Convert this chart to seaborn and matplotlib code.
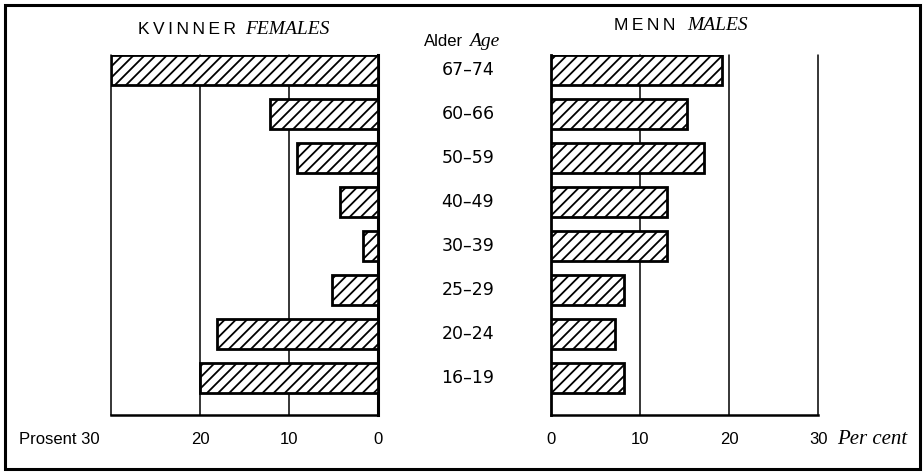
import matplotlib
matplotlib.use("Agg")
import matplotlib.pyplot as plt
import pandas as pd
import seaborn as sns
from matplotlib.patches import Rectangle

# data (percent)
ages = ["67–74", "60–66", "50–59", "40–49", "30–39", "25–29", "20–24", "16–19"]
females = [30.0, 12.1, 9.1, 4.3, 1.7, 5.2, 18.1, 20.0]
males = [19.2, 15.3, 17.2, 13.0, 13.0, 8.2, 7.2, 8.2]
ticks = [0, 10, 20, 30]

df = pd.DataFrame({"age": ages, "female": females, "male": males})

sns.set_style("white")
plt.rcParams["font.family"] = ["Liberation Sans", "DejaVu Sans"]
plt.rcParams["text.color"] = "black"
plt.rcParams["hatch.linewidth"] = 1.3

SANS = ["Liberation Sans", "DejaVu Sans"]
SERIF = "Liberation Serif"
FS = 12
TS = "\u2009"  # thin space for the letter-spaced headings

fig = plt.figure(figsize=(9.24, 4.75), dpi=100)
ax_f = fig.add_axes([111 / 924, 1 - 415 / 475, 267 / 924, 360 / 475])
ax_m = fig.add_axes([551 / 924, 1 - 415 / 475, 267 / 924, 360 / 475])

for ax, col in [(ax_f, "female"), (ax_m, "male")]:
    sns.barplot(data=df, x=col, y="age", order=ages, orient="h", ax=ax,
                color="white", edgecolor="black", linewidth=2.0, width=0.68,
                saturation=1, zorder=3)
    for p in ax.patches:
        p.set_hatch("///")
        p.set_facecolor("white")
    for t in ticks[1:]:
        ax.axvline(t, color="black", lw=1.1, zorder=1, clip_on=False)
    ax.set_ylim(7.85, -0.34)
    ax.set_xlim(0, 30)
    ax.set_xlabel("")
    ax.set_ylabel("")
    ax.set_yticks([])
    ax.set_xticks([])
    for s in ax.spines.values():
        s.set_visible(False)
    ax.spines["bottom"].set_visible(True)
    ax.spines["bottom"].set_linewidth(1.8)
    ax.spines["bottom"].set_color("black")

ax_f.invert_xaxis()
ax_f.spines["right"].set_visible(True)
ax_f.spines["right"].set_linewidth(2.2)
ax_f.spines["right"].set_color("black")
ax_m.spines["left"].set_visible(True)
ax_m.spines["left"].set_linewidth(2.0)
ax_m.spines["left"].set_color("black")

# tick numbers along the bottom
ty = 1 - 440 / 475
for t in ticks[:-1]:
    xf = (378 - t * 8.9) / 924
    fig.text(xf, ty, str(t), ha="center", va="center", fontsize=FS, family=SANS)
for t in ticks:
    xm = (551 + t * 8.93) / 924
    fig.text(xm, ty, str(t), ha="center", va="center", fontsize=FS, family=SANS)
fig.text(100 / 924, ty, "Prosent 30", ha="right", va="center", fontsize=FS, family=SANS)
fig.text(837 / 924, ty, "Per cent", ha="left", va="center", fontsize=15,
         family=SERIF, style="italic")

# age labels in the middle
for i, a in enumerate(ages):
    y = ax_f.transData.transform((0, i))[1]
    yf = fig.transFigure.inverted().transform((0, y))[1]
    fig.text(468 / 924, yf, a, ha="center", va="center", fontsize=12.5,
             family=["DejaVu Sans"])

# headings
fig.text(236 / 924, 1 - 30 / 475, TS.join("KVINNER"), ha="right", va="center",
         fontsize=12.5, family=SANS)
fig.text(245 / 924, 1 - 30 / 475, "FEMALES", ha="left", va="center", fontsize=14,
         family=SERIF, style="italic")
fig.text(675 / 924, 1 - 25 / 475, TS.join("MENN"), ha="right", va="center",
         fontsize=12.5, family=SANS)
fig.text(687 / 924, 1 - 25 / 475, "MALES", ha="left", va="center", fontsize=14,
         family=SERIF, style="italic")
fig.text(463 / 924, 1 - 42 / 475, "Alder", ha="right", va="center", fontsize=FS, family=SANS)
fig.text(469 / 924, 1 - 42 / 475, "Age", ha="left", va="center", fontsize=14,
         family=SERIF, style="italic")

# outer frame
fig.patches.append(Rectangle((5 / 924, 1 - 469 / 475), 915 / 924, 464 / 475,
                             transform=fig.transFigure, fill=False,
                             edgecolor="black", linewidth=2.2))

fig.savefig("out.png", dpi=100)
